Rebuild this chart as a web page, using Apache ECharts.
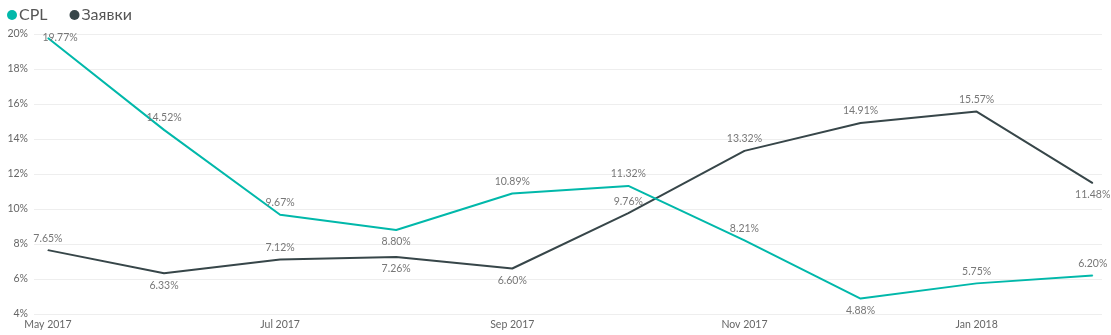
<!DOCTYPE html>
<html>
<head>
<meta charset="utf-8">
<script src="https://cdn.jsdelivr.net/npm/echarts@6/dist/echarts.min.js"></script>
<style>
html,body{margin:0;padding:0;background:#fff;}
#c{width:1111px;height:335px;}
</style>
</head>
<body>
<div id="c"></div>
<script>
var months = ["May 2017","Jun 2017","Jul 2017","Aug 2017","Sep 2017","Oct 2017","Nov 2017","Dec 2017","Jan 2018","Feb 2018"];
var cpl = [19.77, 14.52, 9.67, 8.80, 10.89, 11.32, 8.21, 4.88, 5.75, 6.20];
var zayavki = [7.65, 6.33, 7.12, 7.26, 6.60, 9.76, 13.32, 14.91, 15.57, 11.48];
var xTickIdx = [0, 2, 4, 6, 8];

var cplLabelPos = ["right","top","top","bottom","top","top","top","bottom","top","top"];
var zLabelPos = ["top","bottom","top","bottom","bottom","top","top","top","top","bottom"];

var FONT = "Lato, 'Open Sans', sans-serif";

function build(vals, posArr) {
  return vals.map(function (v, i) {
    var lbl = {position: posArr[i]};
    if (posArr[i] === 'right') { lbl.distance = -6; }
    return {value: [i, v], label: lbl};
  });
}

var chart = echarts.init(document.getElementById('c'), null, {renderer: 'canvas'});
chart.setOption({
  animation: false,
  textStyle: {fontFamily: FONT},
  legend: {
    left: 2, top: 2,
    icon: 'circle',
    itemWidth: 10, itemHeight: 10, itemGap: 22,
    textStyle: {fontFamily: FONT, fontSize: 16, color: '#555', padding: [0, 0, 0, -3]},
    data: ['CPL', 'Заявки']
  },
  grid: {left: 34, right: 9, top: 34, bottom: 21, containLabel: false},
  xAxis: {
    type: 'value',
    min: -0.12, max: 9.08,
    axisLine: {show: false},
    axisTick: {show: false},
    splitLine: {show: false},
    axisLabel: {
      customValues: xTickIdx,
      formatter: function (v) { return months[Math.round(v)]; },
      color: '#666', fontSize: 10.5, fontFamily: FONT, margin: 5
    }
  },
  yAxis: {
    type: 'value',
    min: 4, max: 20, interval: 2,
    axisLine: {show: false},
    axisTick: {show: false},
    splitLine: {lineStyle: {color: '#eeeeee', width: 1}},
    axisLabel: {
      formatter: function (v) { return v + '%'; },
      color: '#666', fontSize: 10.5, fontFamily: FONT, margin: 6
    }
  },
  series: [
    {
      name: 'CPL', type: 'line',
      data: build(cpl, cplLabelPos),
      showSymbol: true, symbol: 'circle', symbolSize: 1,
      lineStyle: {color: '#01B8AA', width: 2},
      itemStyle: {color: '#01B8AA'},
      label: {show: true, distance: 6, color: '#777', fontSize: 10.5, fontFamily: FONT,
        formatter: function (p) { return p.value[1].toFixed(2) + '%'; }},
      z: 3
    },
    {
      name: 'Заявки', type: 'line',
      data: build(zayavki, zLabelPos),
      showSymbol: true, symbol: 'circle', symbolSize: 1,
      lineStyle: {color: '#374649', width: 2},
      itemStyle: {color: '#374649'},
      label: {show: true, distance: 6, color: '#777', fontSize: 10.5, fontFamily: FONT,
        formatter: function (p) { return p.value[1].toFixed(2) + '%'; }},
      z: 2
    }
  ]
});
</script>
</body>
</html>
